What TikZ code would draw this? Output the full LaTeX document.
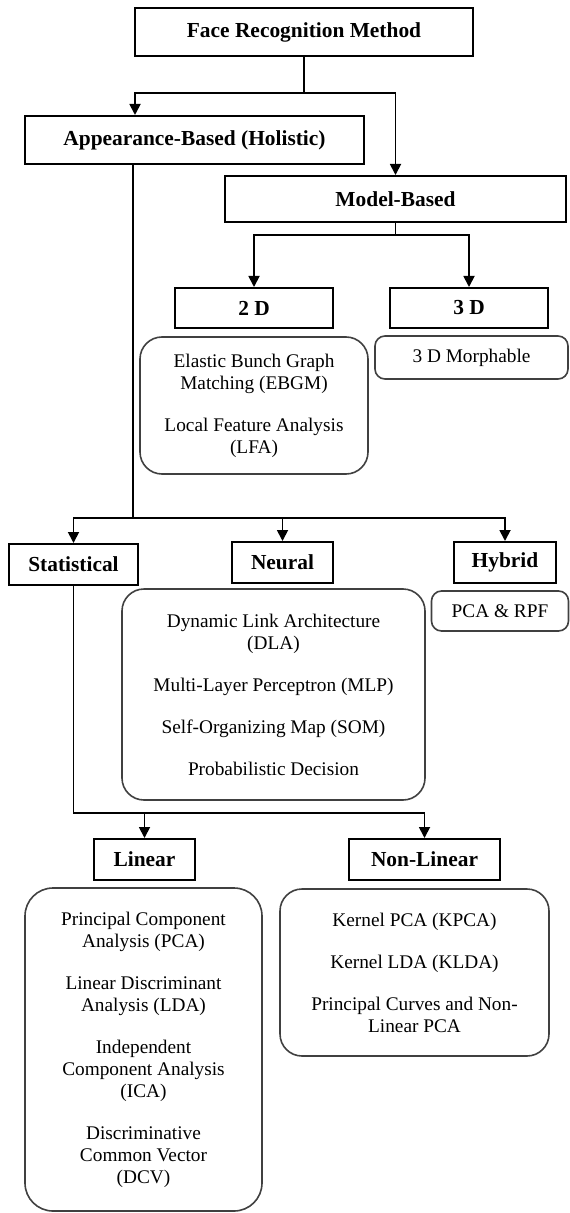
\documentclass[tikz,border=0pt]{standalone}
\usepackage{fontspec}
\setmainfont{Liberation Serif}
\usetikzlibrary{arrows.meta}

\tikzset{
  hdr/.style={rectangle, draw=black, line width=1pt, inner sep=0pt, font=\fontsize{10.7}{12}\selectfont\bfseries},
  lst/.style={rectangle, rounded corners=11pt, draw=black!75, line width=0.8pt, inner sep=0pt, align=center, font=\fontsize{9.65}{11}\selectfont},
  lstsmall/.style={lst, rounded corners=5pt},
  arr/.style={line width=0.9pt, -{Triangle[width=5.5pt,length=5.5pt]}}
}

\begin{document}
\begin{tikzpicture}[x=0.5pt, y=-0.5pt]

\useasboundingbox (0,0) rectangle (569,1213);

\node[hdr, minimum width=169pt, minimum height=24pt] (face) at (304, 32) {Face Recognition Method};
\node[hdr, minimum width=169.5pt, minimum height=24pt] (appear) at (194.5, 140) {Appearance-Based (Holistic)};
\node[hdr, minimum width=170.5pt, minimum height=23pt] (model) at (395.5, 199) {Model-Based};

\node[hdr, minimum width=79pt, minimum height=20pt] (twod) at (254, 308) {2 D};
\node[hdr, minimum width=79pt, minimum height=20pt] (threed) at (469, 308) {3 D};
\node[lst, minimum width=114pt, minimum height=68.5pt] (twodlist) at (254, 405.5) {Elastic Bunch Graph\\Matching (EBGM)\\[10pt]Local Feature Analysis\\(LFA)};
\node[lstsmall, minimum width=96.5pt, minimum height=21.5pt] (threedlist) at (471.5, 357.5) {3 D Morphable};

\node[hdr, minimum width=64.5pt, minimum height=20.5pt] (stat) at (73.5, 564.5) {Statistical};
\node[hdr, minimum width=50.5pt, minimum height=20.5pt] (neural) at (282.5, 562.5) {Neural};
\node[hdr, minimum width=51pt, minimum height=20.5pt] (hybrid) at (505, 562.5) {Hybrid};
\node[lst, minimum width=151.5pt, minimum height=105.5pt] (neurallist) at (273.5, 694.5) {Dynamic Link Architecture\\(DLA)\\[10pt]Multi-Layer Perceptron (MLP)\\[10pt]Self-Organizing Map (SOM)\\[10pt]Probabilistic Decision};
\node[lstsmall, minimum width=68.5pt, minimum height=20pt] (hybridlist) at (500, 611) {PCA \& RPF};

\node[hdr, minimum width=50.5pt, minimum height=20.5pt] (linear) at (144.5, 859.5) {Linear};
\node[hdr, minimum width=75.5pt, minimum height=20.5pt] (nonlinear) at (424.5, 859.5) {Non-Linear};
\node[lst, rounded corners=14pt, minimum width=118.5pt, minimum height=161.5pt] (linearlist) at (143.5, 1049.5) {Principal Component\\Analysis (PCA)\\[10pt]Linear Discriminant\\Analysis (LDA)\\[10pt]Independent\\Component Analysis\\(ICA)\\[10pt]Discriminative\\Common Vector\\(DCV)};
\node[lst, minimum width=134.5pt, minimum height=83.5pt] (nonlinearlist) at (414.5, 972.5) {Kernel PCA (KPCA)\\[10pt]Kernel LDA (KLDA)\\[10pt]Principal Curves and Non-\\Linear PCA};

\coordinate (top) at (135, 93);
\coordinate (abus) at (133, 518);
\coordinate (sbus) at (70, 813);

\draw[arr] (face.south) |- (top) -- (appear.north -| top);
\draw[arr] (face.south) |- (model.north |- top) -- (model.north);

\draw[arr] (model.south) -- ++(0, 12) -| (twod.north);
\draw[arr] (model.south) -- ++(0, 12) -| (threed.north);

\draw[line width=0.9pt] (appear.south -| abus) -- (abus);
\draw[arr] (abus) -| (stat.north);
\draw[arr] (abus) -| (neural.north);
\draw[arr] (abus) -| (hybrid.north);

\draw[arr] (stat.south) |- (linear.north |- sbus) -- (linear.north);
\draw[arr] (stat.south) |- (nonlinear.north |- sbus) -- (nonlinear.north);

\end{tikzpicture}
\end{document}
